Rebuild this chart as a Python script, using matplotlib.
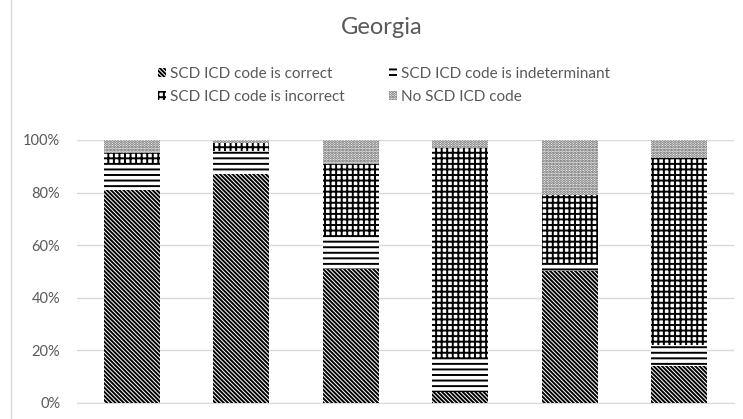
import matplotlib
matplotlib.use("Agg")
import matplotlib.pyplot as plt
import numpy as np

categories = ["1", "2", "3", "4", "5", "6"]
correct = [81, 87, 51, 4, 50, 14]
indeterminant = [10, 9, 12, 13, 3, 8]
incorrect = [4, 3, 28, 80, 26, 71]
no_code = [5, 1, 9, 3, 21, 7]

series_names = ["SCD ICD code is correct", "SCD ICD code is indeterminant",
                "SCD ICD code is incorrect", "No SCD ICD code"]

plt.rcParams['font.family'] = ['Lato', 'DejaVu Sans']
plt.rcParams['hatch.linewidth'] = 1.4

fig = plt.figure(figsize=(7.43, 4.19), dpi=100)
ax = fig.add_axes([0.1036, 0.0382, 0.8844, 0.6277])

x = np.arange(len(categories))
w = 0.51
txt = '#595959'

bottom = np.zeros(len(categories))
hatches = ['\\' * 8, '---', '+++', '......']
ecs = ['black', 'black', 'black', '#555555']
data = [correct, indeterminant, incorrect, no_code]
handles = []
for vals, h, ec, name in zip(data, hatches, ecs, series_names):
    b = ax.bar(x, vals, w, bottom=bottom, color='white', edgecolor=ec,
               hatch=h, linewidth=0, label=name, zorder=3)
    handles.append(b)
    bottom += np.array(vals)

ax.set_xlim(-0.5, len(categories) - 0.5)
ax.set_ylim(0, 100)
ax.set_yticks(range(0, 101, 20))
ax.set_yticklabels([f"{v}%" for v in range(0, 101, 20)])
ax.set_xticks([])
ax.grid(axis='y', color='#d9d9d9', linewidth=1, zorder=0)
for s in ['top', 'right', 'left']:
    ax.spines[s].set_visible(False)
ax.spines['bottom'].set_color('#d9d9d9')
ax.tick_params(axis='y', length=0, labelsize=10.5, labelcolor=txt, pad=12)

fig.text(0.514, 0.935, "Georgia", ha='center', va='center', fontsize=17, color=txt)

order = [0, 2, 1, 3]
leg = fig.legend([handles[i] for i in order], [series_names[i] for i in order],
                 ncol=2, loc='center', bbox_to_anchor=(0.517, 0.796), frameon=False,
                 fontsize=11, labelcolor=txt, handlelength=0.5, handleheight=0.5,
                 handletextpad=0.3, columnspacing=2.9, labelspacing=0.6,
                 borderpad=0)

fig.add_artist(plt.Line2D([0.0148, 0.0148], [0, 1], color='#d9d9d9', linewidth=1,
                          transform=fig.transFigure))

fig.savefig("out.png", dpi=100)
